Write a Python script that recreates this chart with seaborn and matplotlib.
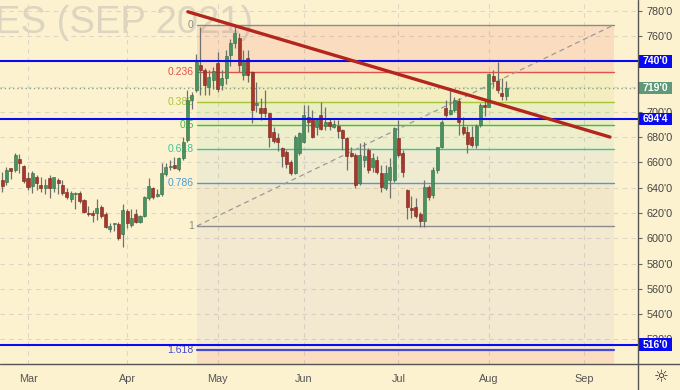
import numpy as np
import pandas as pd
import matplotlib
matplotlib.use('Agg')
import matplotlib.pyplot as plt
import matplotlib.transforms as mtransforms
from matplotlib.patches import Rectangle
from matplotlib.lines import Line2D
import seaborn as sns

# 1. Daily bars, 18 Feb - 6 Aug 2021 (cents / bushel)
opens = [634.3, 646.1, 644.8, 655.4, 654.0, 662.7, 657.2,
         647.5, 641.6, 648.7, 642.2, 639.6, 647.5, 640.0, 646.1, 642.2, 636.9,
         630.9, 635.0, 635.6, 630.3, 620.3, 620.3, 619.8, 624.8, 619.2, 607.1,
         611.1, 611.3, 603.4,
         621.8, 610.5, 619.2, 613.1, 617.6, 631.6, 639.6, 633.5, 635.0, 650.9,
         656.2, 658.0, 654.6, 663.3, 677.8, 709.4, 717.3, 737.1, 733.1, 719.4, 725.2,
         738.3, 721.3, 726.8, 745.0, 754.7, 758.2, 729.2, 742.6, 731.5, 705.7,
         702.8, 702.8, 698.9, 684.3, 679.1, 671.2, 668.3, 660.6, 651.9, 667.2,
         676.4, 696.2, 694.9, 688.3, 697.5, 688.8, 692.2, 688.3, 688.8, 685.7,
         679.1, 667.7, 665.9, 643.5, 661.9, 669.9, 656.6, 661.9, 651.4, 639.6,
         646.1, 646.1,
         679.1, 667.2, 638.2, 623.7, 624.5, 619.2, 613.9, 640.3, 634.3, 654.0,
         672.0, 702.8, 698.3, 701.5, 708.6, 688.3, 684.1, 680.4, 673.8, 689.6, 705.4,
         704.1, 728.0, 724.8, 714.9, 712.2]
highs = [643.7, 652.7, 656.6, 656.0, 667.7, 666.7, 658.0,
         652.7, 653.5, 650.1, 648.3, 646.7, 650.1, 648.7, 647.5, 646.1, 639.6,
         637.7, 636.9, 637.7, 630.9, 625.5, 622.4, 630.9, 626.3, 621.0, 611.9,
         612.3, 613.1, 627.1,
         623.4, 622.9, 622.9, 618.4, 633.5, 647.5, 640.8, 638.8, 659.3, 659.8,
         661.9, 664.6, 664.6, 680.4, 717.3, 715.7, 745.8, 767.1, 734.7, 733.1, 735.5,
         747.4, 733.1, 749.0, 757.3, 768.7, 762.4, 749.0, 749.0, 732.3, 723.6,
         711.0, 717.3, 699.4, 688.3, 683.1, 672.2, 669.9, 661.9, 681.7, 684.3,
         705.4, 705.4, 701.5, 694.9, 708.0, 704.1, 694.9, 693.6, 693.6, 686.2,
         679.9, 672.5, 667.2, 675.1, 676.4, 671.2, 667.2, 665.1, 658.0, 658.0,
         663.3, 688.3,
         693.6, 669.9, 639.0, 633.5, 631.6, 621.0, 646.1, 642.2, 656.6, 672.5,
         693.6, 709.4, 717.9, 712.0, 711.0, 696.0, 688.8, 688.8, 690.8, 706.8, 709.4,
         731.1, 733.1, 739.5, 726.6, 724.8]
lows = [632.7, 636.9, 642.2, 646.7, 652.7, 651.4, 644.0,
        638.2, 635.6, 638.2, 636.9, 635.0, 631.6, 636.9, 635.0, 634.3, 630.9,
        628.9, 622.9, 628.2, 619.8, 617.6, 613.1, 614.5, 615.8, 607.9, 605.2,
        606.0, 598.7, 593.4,
        607.9, 609.2, 611.9, 611.9, 616.6, 630.3, 630.9, 632.4, 633.5, 649.3,
        654.0, 654.6, 653.5, 661.9, 676.2, 702.3, 715.7, 713.4, 713.4, 713.4, 718.1,
        716.1, 717.3, 722.1, 736.3, 750.5, 731.5, 725.2, 723.6, 691.2, 699.9,
        693.6, 696.0, 672.5, 675.1, 669.3, 656.6, 655.6, 650.1, 650.9, 665.9,
        675.6, 684.3, 679.1, 681.7, 685.7, 685.7, 685.7, 687.0, 679.1, 669.9,
        654.0, 664.6, 639.6, 642.2, 656.6, 651.4, 652.7, 650.9, 636.9, 638.2,
        631.6, 644.8,
        664.6, 648.3, 615.0, 615.8, 615.8, 609.2, 609.2, 630.3, 631.6, 651.4,
        671.2, 696.2, 697.5, 700.1, 681.7, 681.7, 667.5, 672.2, 671.4, 688.3, 696.7,
        703.9, 719.7, 715.3, 709.4, 709.2]
closes = [640.8, 641.4, 654.0, 653.5, 665.9, 659.8, 645.6,
          640.3, 651.4, 644.0, 639.6, 642.2, 640.0, 648.3, 643.5, 636.1, 632.4,
          636.1, 636.1, 629.7, 621.0, 619.2, 618.4, 623.7, 617.6, 608.7, 609.7,
          611.6, 600.5, 622.4,
          611.9, 615.8, 613.1, 617.6, 632.4, 641.4, 632.4, 635.0, 651.9, 656.6,
          657.2, 655.4, 663.3, 676.4, 709.4, 713.4, 739.1, 733.1, 721.3, 727.4, 732.3,
          718.1, 726.6, 744.2, 754.7, 762.6, 737.1, 741.0, 729.2, 701.5, 706.8,
          698.9, 698.9, 680.4, 677.2, 676.4, 665.1, 658.8, 651.9, 679.9, 683.1,
          697.5, 692.2, 680.4, 693.6, 686.2, 692.2, 688.8, 690.4, 685.1, 679.1,
          665.1, 665.3, 642.2, 665.9, 665.1, 654.0, 663.3, 652.7, 640.3, 651.4,
          656.6, 687.0,
          665.9, 652.7, 625.0, 622.4, 617.6, 613.9, 640.8, 632.9, 654.0, 672.0,
          692.2, 697.5, 701.5, 709.4, 692.2, 683.5, 674.6, 673.8, 688.8, 705.4, 703.5,
          730.0, 724.8, 717.3, 712.2, 719.0]

# trading calendar (CBOT holidays skipped)
holidays = ['2021-04-02', '2021-05-31', '2021-07-05', '2021-09-06']
calendar = pd.bdate_range('2021-02-18', '2021-09-30', freq='C', holidays=holidays)
month_labels = ['Mar', 'Apr', 'May', 'Jun', 'Jul', 'Aug', 'Sep']
month_ticks = [int(np.argmax(calendar.month == m)) for m in range(3, 10)]

# Fibonacci retracement (anchors in bar units)
fib_levels = [0, 0.236, 0.382, 0.5, 0.618, 0.786, 1, 1.618, 2.618]
fib_labels = ['0', '0.236', '0.382', '0.5', '0.618', '0.786', '1', '1.618', '']
fib_colors = ['#8c8c8c', '#e0534a', '#a8c43c', '#3fbf3f', '#3cc39b',
              '#4f9ad6', '#8c8c8c', '#4848d0', '#e0534a']
fib_alpha = [0, 0.13, 0.10, 0.09, 0.08, 0.08, 0.09, 0.05, 0.12]
fib_high, fib_low = 768.75, 609.75
fib_x = [46.2, 143.0]

# red trend line
trend_x = [44.1, 142.1]
trend_y = [779.2, 680.1]

# horizontal support / resistance
h_levels = [740.0, 694.5, 516.0]
h_labels = ["740'0", "694'4", "516'0"]
last_price, last_label = 719.0, "719'0"

bg = '#fdf2d0'

# 2. Build frame
df = pd.DataFrame({'Date': calendar[:len(opens)], 'Open': opens, 'High': highs,
                   'Low': lows, 'Close': closes})
df['Bar'] = np.arange(len(df))
df['Up'] = df['Close'] >= df['Open']

# 3. Figure
sns.set_style('white', rc={'axes.facecolor': bg, 'figure.facecolor': bg})
plt.rcParams['font.family'] = ['Liberation Sans', 'DejaVu Sans']

fig = plt.figure(figsize=(6.8, 3.9), dpi=100, facecolor=bg)
ax = fig.add_axes([0, 26 / 390, 638 / 680, 364 / 390])
ax.set_facecolor(bg)
ax.set_xlim(0.5, 148.6)
ax.set_ylim(500.6, 788.5)

# watermark
ax.text(-5 / 680, 1 - 33 / 390, 'ES (SEP 2021)', transform=fig.transFigure,
        fontsize=27.5, color='#ddd5c0', va='baseline', ha='left', zorder=0.5,
        clip_on=False)

# grid
ax.set_yticks(np.arange(520, 781, 20))
ax.set_yticklabels([f"{v}'0" for v in range(520, 781, 20)])
ax.set_xticks(month_ticks)
ax.set_xticklabels(month_labels)
ax.grid(True, linestyle=(0, (4, 4)), color='#ddd6c2', lw=0.8, zorder=0)
ax.set_axisbelow(True)

# 4. Fib zones & lines
span = fib_high - fib_low
fib_prices = [fib_high - l * span for l in fib_levels]
for i in range(1, len(fib_levels)):
    ax.fill_between(fib_x, fib_prices[i - 1], fib_prices[i], color=fib_colors[i],
                    alpha=fib_alpha[i], lw=0, zorder=1)
for p, lab, col in zip(fib_prices[:-1], fib_labels[:-1], fib_colors[:-1]):
    ax.plot(fib_x, [p, p], color=col, lw=1.6 if lab == '1.618' else 1.0, zorder=2)
    ax.text(fib_x[0] - 0.7, p, lab, color=col, fontsize=7.5, ha='right', va='center',
            zorder=2)
sns.lineplot(x=fib_x, y=[fib_low, fib_high], ax=ax, color='#9a9a9a', lw=0.9,
             linestyle=(0, (4, 3)), zorder=2)

# 5. Candles
green, red = '#4a9160', '#a8372b'
ax.vlines(df['Bar'], df['Low'], df['High'], color='#707070', lw=0.9, zorder=4)
body_lo = df[['Open', 'Close']].min(axis=1)
body_h = (df['Close'] - df['Open']).abs().clip(lower=0.7)
ax.bar(df['Bar'], body_h, bottom=body_lo, width=0.7,
       color=np.where(df['Up'], green, red),
       edgecolor=np.where(df['Up'], '#2f6e43', '#7a2018'), lw=0.4, zorder=5)

# 6. Levels and trend line
ax.axhline(last_price, color='#7fa88a', lw=1.0, linestyle=(0, (1, 2)), zorder=3)
for p in h_levels:
    ax.axhline(p, color='#0a0af0', lw=1.5, zorder=6)
sns.lineplot(x=trend_x, y=trend_y, ax=ax, color='#b3261e', lw=2.4, zorder=7)

# 7. Axes styling
for s in ax.spines.values():
    s.set_visible(False)
ax.yaxis.tick_right()
ax.tick_params(axis='y', length=3, width=0.8, color='#666666', labelsize=7.8,
               labelcolor='#444444', pad=3)
ax.tick_params(axis='x', length=4, width=0.8, color='#666666', labelsize=7.8,
               labelcolor='#555555', pad=3)
ax.set_xlabel('')
ax.set_ylabel('')

fig.add_artist(Line2D([0, 1], [26 / 390, 26 / 390], transform=fig.transFigure,
                      color='#555555', lw=1.0))
fig.add_artist(Line2D([638 / 680, 638 / 680], [0, 1], transform=fig.transFigure,
                      color='#555555', lw=1.0))

# price boxes on the scale
blend = mtransforms.blended_transform_factory(ax.transAxes, ax.transData)
box_w = 34 / 638
box_h = 12.5 * 0.791
boxes = [(p, lab, '#0a0af0') for p, lab in zip(h_levels, h_labels)]
boxes.append((last_price, last_label, '#5f9a78'))
for p, lab, col in boxes:
    ax.add_patch(Rectangle((1.0, p - box_h / 2), box_w, box_h, transform=blend,
                           fc=col, ec='none', clip_on=False, zorder=10))
    ax.text(1.0 + box_w / 2, p, lab, transform=blend, ha='center', va='center',
            color='white', fontsize=7.5, fontweight='bold', clip_on=False, zorder=11)

fig.text(661 / 680, 1 - 377 / 390, '☼', family='DejaVu Sans', fontsize=12,
         color='#333333', ha='center', va='center')

plt.savefig('out.png', dpi=100, facecolor=bg)
